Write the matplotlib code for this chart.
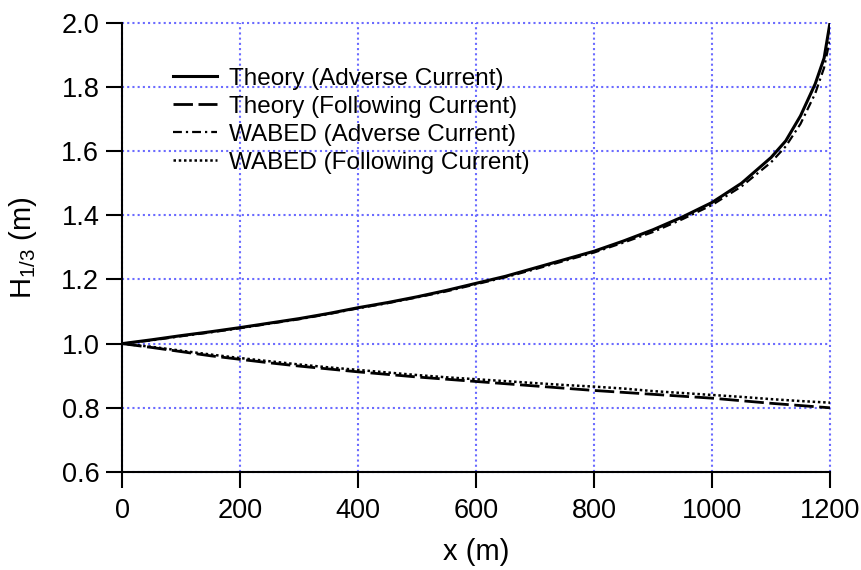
import matplotlib
matplotlib.use("Agg")
from matplotlib import pyplot as plt

plt.rcParams['font.family'] = ['Liberation Sans', 'DejaVu Sans']
plt.rcParams['mathtext.default'] = 'regular'

# distance along the channel (m)
x_adv = [0, 50, 100, 150, 200, 250, 300, 350, 400, 450, 500, 550, 600, 650,
         700, 750, 800, 850, 900, 950, 1000, 1050, 1100, 1125, 1150, 1175, 1190, 1200]
theory_adverse = [1.000, 1.012, 1.025, 1.037, 1.050, 1.064, 1.078, 1.094, 1.112, 1.128,
                  1.146, 1.166, 1.188, 1.210, 1.236, 1.262, 1.288, 1.320, 1.355, 1.395,
                  1.440, 1.500, 1.580, 1.632, 1.710, 1.810, 1.890, 2.000]
wabed_adverse = [1.000, 1.010, 1.023, 1.035, 1.048, 1.062, 1.076, 1.092, 1.110, 1.126,
                 1.144, 1.163, 1.185, 1.207, 1.232, 1.258, 1.284, 1.315, 1.348, 1.388,
                 1.432, 1.490, 1.565, 1.615, 1.685, 1.780, 1.860, 1.950]

x_fol = [0, 50, 100, 150, 200, 250, 300, 350, 400, 450, 500, 550, 600,
         650, 700, 750, 800, 850, 900, 950, 1000, 1050, 1100, 1150, 1200]
theory_following = [1.000, 0.988, 0.975, 0.962, 0.951, 0.940, 0.930, 0.921, 0.912,
                    0.904, 0.896, 0.889, 0.882, 0.875, 0.868, 0.861, 0.854, 0.848,
                    0.842, 0.836, 0.830, 0.822, 0.814, 0.807, 0.800]
wabed_following = [1.000, 0.990, 0.978, 0.966, 0.955, 0.945, 0.935, 0.926, 0.918,
                   0.910, 0.902, 0.895, 0.889, 0.883, 0.877, 0.871, 0.866, 0.860,
                   0.852, 0.846, 0.840, 0.834, 0.827, 0.821, 0.816]

fig = plt.figure(figsize=(8.61, 5.70), dpi=100)
ax = fig.add_axes([0.142, 0.172, 0.822, 0.788])

ax.plot(x_adv, theory_adverse, color='black', lw=2.2, label='Theory (Adverse Current)')
ax.plot(x_fol, theory_following, color='black', lw=2.0, linestyle=(0, (7, 2)),
        label='Theory (Following Current)')
ax.plot(x_adv, wabed_adverse, color='black', lw=1.6, linestyle=(0, (4, 1.8, 1, 1.8)),
        label='WABED (Adverse Current)')
ax.plot(x_fol, wabed_following, color='black', lw=1.8, linestyle=(0, (1, 1.1)),
        label='WABED (Following Current)')

ax.set_xlim(0, 1200)
ax.set_ylim(0.6, 2.0)
ax.set_xticks(range(0, 1201, 200))
ax.set_yticks([0.6, 0.8, 1.0, 1.2, 1.4, 1.6, 1.8, 2.0])
ax.set_yticklabels(['0.6', '0.8', '1.0', '1.2', '1.4', '1.6', '1.8', '2.0'])

ax.grid(True, color='#6b6bff', linestyle=(0, (1, 1.5)), lw=1.5)
ax.set_axisbelow(True)
for gl in ax.xaxis.get_gridlines() + ax.yaxis.get_gridlines():
    gl.set_clip_on(False)

for side in ['top', 'right']:
    ax.spines[side].set_visible(False)
for side in ['left', 'bottom']:
    ax.spines[side].set_linewidth(1.5)

ax.tick_params(direction='out', length=11.5, width=1.5, labelsize=19.5, color='black')
ax.tick_params(axis='x', pad=7)
ax.tick_params(axis='y', pad=5)

ax.set_xlabel('x (m)', fontsize=21, labelpad=10)
ax.set_ylabel('H$_{1/3}$ (m)', fontsize=21, labelpad=16)

ax.legend(loc='upper left', bbox_to_anchor=(0.072, 0.90), frameon=False, fontsize=17.5,
          handlelength=1.8, handletextpad=0.5, labelspacing=0.25, borderpad=0,
          borderaxespad=0)

fig.savefig('out.png', dpi=100)
